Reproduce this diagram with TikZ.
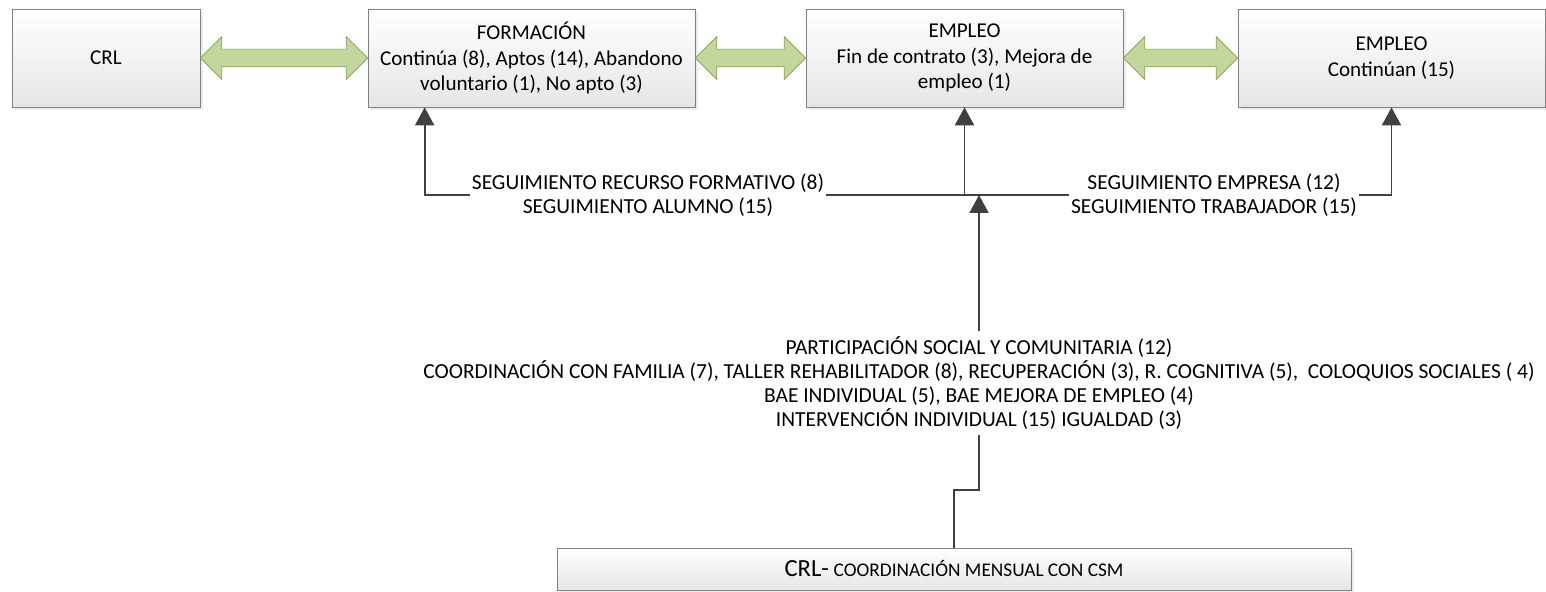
\documentclass[tikz,border=0pt]{standalone}
\usepackage{fontspec}
\setmainfont{Carlito}
\usetikzlibrary{shapes.arrows,calc,shadows,arrows.meta}
\definecolor{arrowgreen}{HTML}{C3D69B}
\definecolor{arrowedge}{HTML}{839E52}
\definecolor{linegray}{HTML}{404040}

\begin{document}
\begin{tikzpicture}
[box/.style={rectangle, draw=black!50, top color=white, bottom color=black!10, thin, inner sep=2pt, minimum height=1.96cm, align=center, font=\fontsize{12}{14.6}\selectfont, drop shadow={shadow xshift=1.5pt, shadow yshift=-1.5pt, opacity=0.15}},
dblarrow/.style={double arrow, draw=arrowedge, fill=arrowgreen, thin, inner sep=0pt, inner ysep=0.17cm, double arrow head extend=0.25cm, double arrow tip angle=90},
conn/.style={draw=linegray, line width=1.1pt, -{Triangle[width=0.38cm,length=0.36cm]}},
feed/.style={draw=linegray, line width=1.1pt},
lbl/.style={fill=white, inner sep=1pt, align=center, font=\fontsize{12.2}{14}\selectfont}]

\useasboundingbox (0,0) rectangle (30.92,11.84);

% top row
\node[box, minimum width=3.76cm] (crl) at (2.12,10.68) {CRL};
\node[box, minimum width=6.54cm] (form) at (10.63,10.68) {FORMACIÓN\\Continúa (8), Aptos (14), Abandono\\voluntario (1), No apto (3)};
\node[box, minimum width=6.34cm] (emp) at (19.29,10.68) {EMPLEO\\Fin de contrato (3), Mejora de\\empleo (1)};
\node[box, minimum width=6.14cm] (empr) at (27.83,10.68) {EMPLEO\\Continúan (15)};

\path let \p1=(crl.east), \p2=(form.west) in node[dblarrow, minimum height=\x2-\x1] (crlform) at ($(\p1)!0.5!(\p2)$) {};
\path let \p1=(form.east), \p2=(emp.west) in node[dblarrow, minimum height=\x2-\x1] (formemp) at ($(\p1)!0.5!(\p2)$) {};
\path let \p1=(emp.east), \p2=(empr.west) in node[dblarrow, minimum height=\x2-\x1] (empempr) at ($(\p1)!0.5!(\p2)$) {};

% bottom
\node[box, minimum width=15.88cm, minimum height=0.84cm] (csm) at (19.08,0.46) {{\fontsize{14}{16}\selectfont CRL-} {\fontsize{11}{13}\selectfont COORDINACIÓN MENSUAL CON CSM}};

\node[lbl, fill=none, inner sep=3pt, font=\fontsize{12.2}{13.6}\selectfont] (acts) at (19.58,4.18) {PARTICIPACIÓN SOCIAL Y COMUNITARIA (12)\\COORDINACIÓN CON FAMILIA (7), TALLER REHABILITADOR (8), RECUPERACIÓN (3), R. COGNITIVA (5), \ COLOQUIOS SOCIALES ( 4)\\BAE INDIVIDUAL (5), BAE MEJORA DE EMPLEO (4)\\INTERVENCIÓN INDIVIDUAL (15) IGUALDAD (3)};

% connectors
\coordinate (hub) at (19.58,7.94);
\coordinate (formin) at ($(form.south west)+(1.14,0)$);

\draw[conn] (acts.north) -- (hub);
\draw[conn] (hub) -| (formin);
\draw[conn] (hub) -| (empr.south);
\draw[conn] (emp.south |- hub) -- (emp.south);
\draw[feed] (acts.south) -- ++(0,-1.1) -| (csm.north);

\node[lbl] (segform) at (12.96,7.94) {SEGUIMIENTO RECURSO FORMATIVO (8)\\SEGUIMIENTO ALUMNO (15)};
\node[lbl] (segemp) at (24.28,7.94) {SEGUIMIENTO EMPRESA (12)\\SEGUIMIENTO TRABAJADOR (15)};

\end{tikzpicture}
\end{document}
